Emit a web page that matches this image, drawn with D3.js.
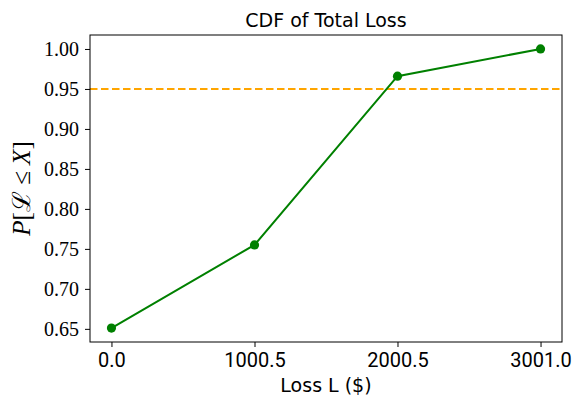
<!DOCTYPE html>
<html>
<head>
<meta charset="utf-8">
<script src="https://cdnjs.cloudflare.com/ajax/libs/d3/7.8.5/d3.min.js"></script>
<style>
  body { margin: 0; background: #fff; }
  .serif { font-family: "Liberation Serif", "DejaVu Serif", serif; }
  .sans { font-family: "DejaVu Sans", sans-serif; }
  .tick-sans { font-family: Roboto, "DejaVu Sans", sans-serif; }
</style>
</head>
<body>
<div class="chart"></div>
<script>
var lossValues = [0.0, 1000.5, 2000.5, 3001.0];
var cdfValues = [0.651, 0.755, 0.966, 1.0];
var xTickLabels = ["0.0", "1000.5", "2000.5", "3001.0"];
var yTicks = [0.65, 0.70, 0.75, 0.80, 0.85, 0.90, 0.95, 1.00];
var threshold = 0.95;

var svgWidth = 573;
var svgHeight = 403;

var margin = { top: 35, right: 11, bottom: 61, left: 90 };
var width = svgWidth - margin.left - margin.right;
var height = svgHeight - margin.top - margin.bottom;

var svg = d3.select(".chart")
  .append("svg")
  .attr("width", svgWidth)
  .attr("height", svgHeight);

var chartGroup = svg.append("g")
  .attr("transform", `translate(${margin.left}, ${margin.top})`);

// matplotlib style 5% padding
var xPad = (d3.max(lossValues) - d3.min(lossValues)) * 0.05;
var yPad = (d3.max(cdfValues) - d3.min(cdfValues)) * 0.05;

var xScale = d3.scaleLinear()
  .domain([d3.min(lossValues) - xPad, d3.max(lossValues) + xPad])
  .range([0, width]);

var yScale = d3.scaleLinear()
  .domain([d3.min(cdfValues) - yPad, d3.max(cdfValues) + yPad])
  .range([height, 0]);

var bottomAxis = d3.axisBottom(xScale)
  .tickValues(lossValues)
  .tickFormat((d, i) => xTickLabels[i])
  .tickSize(5)
  .tickPadding(6);

var leftAxis = d3.axisLeft(yScale)
  .tickValues(yTicks)
  .tickFormat(d3.format(".2f"))
  .tickSize(5)
  .tickPadding(6);

var xAxisG = chartGroup.append("g")
  .attr("transform", `translate(0, ${height})`)
  .call(bottomAxis);
xAxisG.select(".domain").remove();
xAxisG.selectAll("text")
  .attr("class", "tick-sans")
  .attr("font-size", "20px")
  .attr("fill", "#000");
xAxisG.selectAll("line").attr("stroke", "#000");

var yAxisG = chartGroup.append("g")
  .call(leftAxis);
yAxisG.select(".domain").remove();
yAxisG.selectAll("text")
  .attr("class", "serif")
  .attr("font-size", "20px")
  .attr("fill", "#000");
yAxisG.selectAll("line").attr("stroke", "#000");

// threshold line
chartGroup.append("line")
  .attr("x1", 0)
  .attr("x2", width)
  .attr("y1", yScale(threshold))
  .attr("y2", yScale(threshold))
  .attr("stroke", "#ffa500")
  .attr("stroke-width", 2)
  .attr("stroke-dasharray", "7.5,3.5");

var line = d3.line()
  .x((d, i) => xScale(lossValues[i]))
  .y(d => yScale(d));

chartGroup.append("path")
  .datum(cdfValues)
  .attr("d", line)
  .attr("fill", "none")
  .attr("stroke", "#008000")
  .attr("stroke-width", 2);

chartGroup.selectAll("circle")
  .data(cdfValues)
  .enter()
  .append("circle")
  .attr("cx", (d, i) => xScale(lossValues[i]))
  .attr("cy", d => yScale(d))
  .attr("r", 4.6)
  .attr("fill", "#008000");

// frame
chartGroup.append("rect")
  .attr("width", width)
  .attr("height", height)
  .attr("fill", "none")
  .attr("stroke", "#000")
  .attr("stroke-width", 1);

// title
svg.append("text")
  .attr("class", "sans")
  .attr("x", margin.left + width / 2)
  .attr("y", 27)
  .attr("text-anchor", "middle")
  .attr("font-size", "19px")
  .attr("fill", "#000")
  .text("CDF of Total Loss");

// x label
svg.append("text")
  .attr("class", "sans")
  .attr("x", margin.left + width / 2)
  .attr("y", 392)
  .attr("text-anchor", "middle")
  .attr("font-size", "19px")
  .attr("fill", "#000")
  .text("Loss L ($)");

// y label
var ylab = svg.append("text")
  .attr("class", "serif")
  .attr("transform", `translate(30, ${margin.top + height / 2}) rotate(-90)`)
  .attr("text-anchor", "middle")
  .attr("font-size", "25px")
  .attr("fill", "#000");
ylab.append("tspan").attr("font-style", "italic").text("P");
ylab.append("tspan").text("[ℒ ≤ ");
ylab.append("tspan").attr("font-style", "italic").text("X");
ylab.append("tspan").text("]");
</script>
</body>
</html>
